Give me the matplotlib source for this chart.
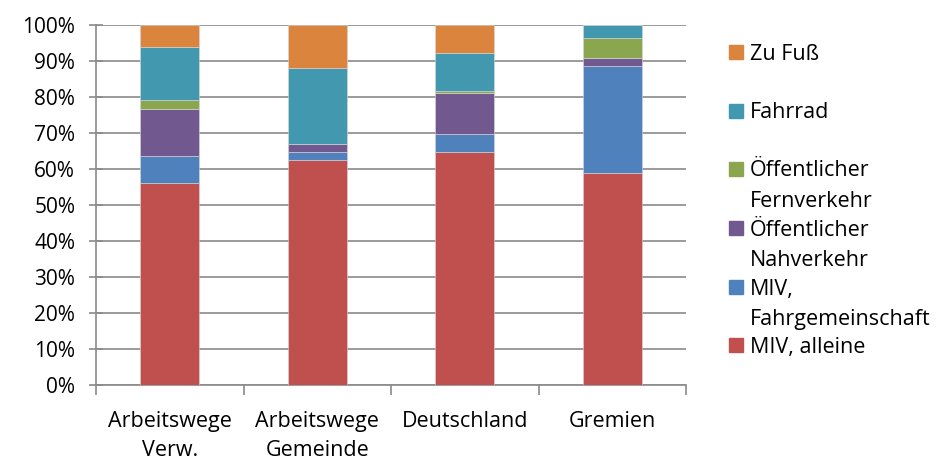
import numpy as np
import matplotlib
matplotlib.use('Agg')
import matplotlib.pyplot as plt
from matplotlib.patches import Rectangle

plt.rcParams['font.family'] = ['Open Sans', 'DejaVu Sans']

categories = ['Arbeitswege\nVerw.', 'Arbeitswege\nGemeinde', 'Deutschland', 'Gremien']
# Anteile in Prozent, von unten nach oben gestapelt
miv_alleine = [56.0, 62.5, 64.7, 58.8]
miv_fahrgem = [7.5, 2.2, 5.1, 29.7]
oepnv_nah = [13.1, 2.2, 11.4, 2.4]
oepnv_fern = [2.6, 0.0, 0.6, 5.4]
fahrrad = [14.6, 21.2, 10.5, 3.7]
zu_fuss = [6.2, 11.9, 7.7, 0.0]

series = [
    ('MIV, alleine', miv_alleine, '#C0504D'),
    ('MIV,\nFahrgemeinschaft', miv_fahrgem, '#4F81BD'),
    ('Öffentlicher\nNahverkehr', oepnv_nah, '#71588F'),
    ('Öffentlicher\nFernverkehr', oepnv_fern, '#8AA64F'),
    ('Fahrrad', fahrrad, '#4298AE'),
    ('Zu Fuß', zu_fuss, '#DB843D'),
]

fs = 15.5
H = 462
fig = plt.figure(figsize=(9.47, 4.62), dpi=100)
ax = fig.add_axes([96 / 947, 1 - 385 / H, 590 / 947, 360 / H])

x = np.arange(len(categories))
bottom = np.zeros(len(categories))
for name, vals, col in series:
    vals = np.array(vals)
    ax.bar(x, vals, 0.4, bottom=bottom, color=col, edgecolor='#d8d8d8', linewidth=0.4, zorder=3)
    bottom += vals

ax.set_xlim(-0.5, len(categories) - 0.5)
ax.set_ylim(0, 100)
ax.set_yticks(np.arange(0, 101, 10))
ax.set_yticklabels([f'{v}%' for v in range(0, 101, 10)], fontsize=15)
ax.yaxis.grid(True, color='#8a8a8a', linewidth=1.2, zorder=0)

ax.set_xticks(np.arange(-0.5, len(categories), 1.0))
ax.set_xticklabels([])
ax.set_xticks(x, minor=True)
ax.set_xticklabels(categories, minor=True, fontsize=fs, linespacing=1.45)
ax.tick_params(axis='x', which='minor', length=0, pad=19)
ax.tick_params(axis='x', which='major', length=7, color='#8a8a8a', width=1.2)
ax.tick_params(axis='y', direction='inout', length=10, color='#8a8a8a', width=1.2, pad=10)

for s in ['top', 'right']:
    ax.spines[s].set_visible(False)
for s in ['left', 'bottom']:
    ax.spines[s].set_color('#8a8a8a')
    ax.spines[s].set_linewidth(1.2)

# Legende rechts, von oben nach unten (Marker an der ersten Textzeile)
legend_y = [52, 111, 169, 228, 287, 345]
for (name, vals, col), yy in zip(series[::-1], legend_y):
    fig.patches.append(Rectangle((729 / 947, 1 - (yy + 7) / H), 14 / 947, 14 / H,
                                 transform=fig.transFigure, color=col, figure=fig))
    for i, line in enumerate(name.split('\n')):
        fig.text(750 / 947, 1 - (yy + 7.5 + 30 * i) / H, line, fontsize=fs,
                 va='baseline', ha='left')

fig.savefig('out.png', dpi=100)
